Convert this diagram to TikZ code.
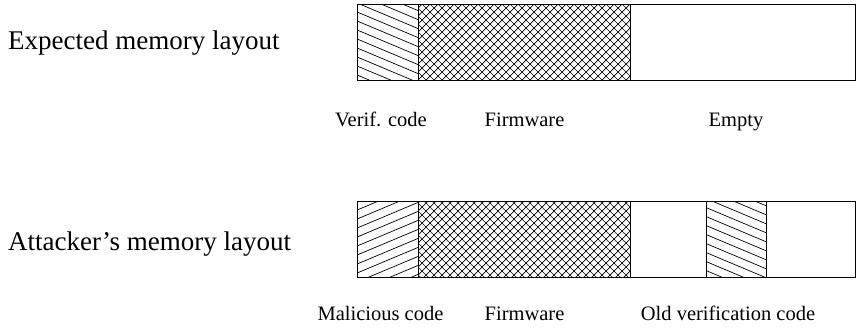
\documentclass[tikz,border=0pt]{standalone}
\usepackage{fontspec}
\setmainfont{Liberation Serif}
\tikzset{
  bar/.style={draw=black, line width=1pt},
  hatch/.style={draw=black, line width=0.7pt},
  mainlabel/.style={anchor=base west, inner sep=0pt, font=\fontsize{27}{31}\selectfont},
  sublabel/.style={anchor=base, inner sep=0pt, font=\fontsize{20.5}{24}\selectfont},
}
\begin{document}
\begin{tikzpicture}[x=1pt,y=-1pt]
\useasboundingbox (0,0) rectangle (857,327);
% ---------- top bar ----------
\begin{scope}
  \clip (357,4.5) rectangle (418,80);
  \foreach \c in {-36,-27,...,90} \draw[hatch] (350,\c) -- (425,\c+31.5);
\end{scope}
\begin{scope}
  \clip (418,4.5) rectangle (630,80);
  \foreach \c in {330,338,...,730} {
    \draw[hatch] (\c,0) -- (\c+90,90);
    \draw[hatch] (\c,0) -- (\c-90,90);
  }
\end{scope}
\coordinate (tA) at (357,4.5);
\coordinate (tB) at (855.5,80);
\draw[bar] (tA) rectangle (tB);
\draw[bar] (418,4.5) -- (418,80);
\draw[bar] (630,4.5) -- (630,80);
% ---------- bottom bar ----------
\begin{scope}
  \clip (357,201) rectangle (418,277);
  \foreach \c in {195,204,...,320} \draw[hatch] (350,\c) -- (425,\c-31.5);
\end{scope}
\begin{scope}
  \clip (418,201) rectangle (630,277);
  \foreach \c in {330,338,...,730} {
    \draw[hatch] (\c,195) -- (\c+90,285);
    \draw[hatch] (\c,195) -- (\c-90,285);
  }
\end{scope}
\begin{scope}
  \clip (706,201) rectangle (766,277);
  \foreach \c in {160,169,...,285} \draw[hatch] (700,\c) -- (775,\c+31.5);
\end{scope}
\coordinate (bA) at (357,201);
\coordinate (bB) at (855.5,277);
\draw[bar] (bA) rectangle (bB);
\draw[bar] (418,201) -- (418,277);
\draw[bar] (630,201) -- (630,277);
\draw[bar] (706,201) -- (706,277);
\draw[bar] (766,201) -- (766,277);
% ---------- labels ----------
\node[mainlabel] (exp) at (8,49) {Expected memory layout};
\node[mainlabel] (att) at (8,250) {Attacker's memory layout};
\node[sublabel] (verif) at (381,126) {Verif. code};
\node[sublabel] (fw1) at (524.5,126) {Firmware};
\node[sublabel] (empty) at (736,126) {Empty};
\node[sublabel] (mal) at (380.5,320) {Malicious code};
\node[sublabel] (fw2) at (524.5,320) {Firmware};
\node[sublabel] (old) at (728,320) {Old verification code};
\end{tikzpicture}
\end{document}
